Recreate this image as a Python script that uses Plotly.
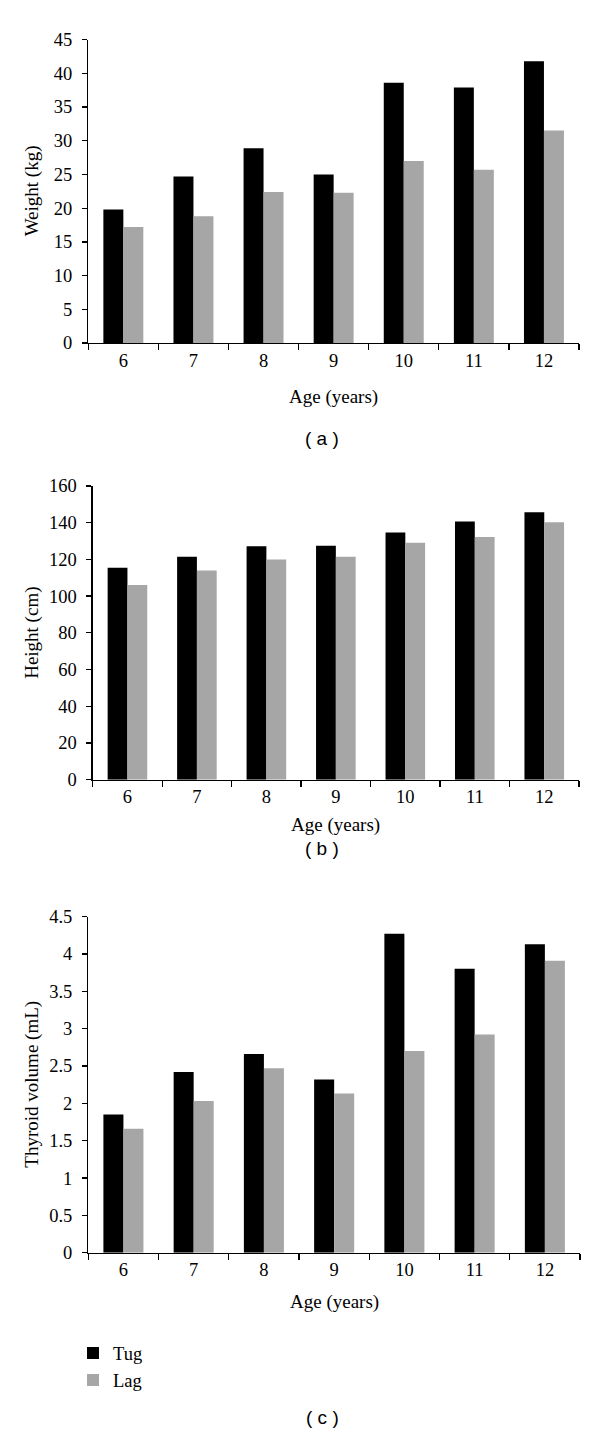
import plotly.graph_objects as go

ages = ["6", "7", "8", "9", "10", "11", "12"]
series_names = ["Tug", "Lag"]
weight_tug = [19.8, 24.7, 28.9, 25.0, 38.6, 37.9, 41.8]
weight_lag = [17.2, 18.8, 22.4, 22.3, 27.0, 25.7, 31.5]
height_tug = [115.4, 121.5, 127.2, 127.5, 134.7, 140.6, 145.7]
height_lag = [106.1, 114.0, 120.0, 121.5, 129.1, 132.2, 140.2]
thyroid_tug = [1.85, 2.42, 2.66, 2.32, 4.27, 3.80, 4.13]
thyroid_lag = [1.66, 2.03, 2.47, 2.13, 2.70, 2.92, 3.91]
y_titles = ["Weight (kg)", "Height (cm)", "Thyroid volume (mL)"]
x_title = "Age (years)"
panel_labels = ["( a )", "( b )", "( c )"]

W, H = 600, 1442
BLACK = "#000000"
GRAY = "#A6A6A6"
SERIF = "Liberation Serif"

def px_x(v):
    return v / W

def px_y(v):
    return 1 - v / H

# panel geometry in pixels: (left, right, top, bottom)
panels = [
    (88.3, 579.0, 30.0, 337.7),
    (92.7, 579.0, 482.7, 780.5),
    (88.3, 580.0, 919.3, 1260.2),
]
yranges = [(0, 45, 5), (0, 160, 20), (0, 4.5, 0.5)]
data_sets = [(weight_tug, weight_lag), (height_tug, height_lag), (thyroid_tug, thyroid_lag)]
xtitle_y = [392, 826, 1310]
label_y = [435, 850, 1427]

fig = go.Figure()
for i, ((tug, lag), (l, r, t, b), (y0, y1, dt)) in enumerate(zip(data_sets, panels, yranges)):
    sfx = "" if i == 0 else str(i + 1)
    fig.add_trace(go.Bar(x=ages, y=tug, name=series_names[0], marker=dict(color=BLACK, line=dict(width=0)),
                         xaxis="x" + sfx, yaxis="y" + sfx, showlegend=(i == 0), legendgroup="tug"))
    fig.add_trace(go.Bar(x=ages, y=lag, name=series_names[1], marker=dict(color=GRAY, line=dict(width=0)),
                         xaxis="x" + sfx, yaxis="y" + sfx, showlegend=(i == 0), legendgroup="lag"))
    fig.layout["xaxis" + sfx] = dict(
        domain=[px_x(l), px_x(r)], anchor="y" + sfx, type="category", range=[-0.5, 6.5],
        showline=True, linecolor=BLACK, linewidth=1.3, ticks="outside", tickson="boundaries",
        ticklen=6, tickwidth=1.3, tickcolor=BLACK, showgrid=False, zeroline=False,
        tickfont=dict(family=SERIF, size=18.5, color=BLACK), fixedrange=True,
    )
    fig.layout["yaxis" + sfx] = dict(
        domain=[px_y(b), px_y(t)], anchor="x" + sfx, range=[y0, y1], dtick=dt, tick0=0,
        showline=True, linecolor=BLACK, linewidth=1.3, ticks="outside", ticklen=5,
        tickwidth=1.3, tickcolor=BLACK, showgrid=False, zeroline=False,
        tickfont=dict(family=SERIF, size=18.5, color=BLACK), ticklabelstandoff=6, fixedrange=True,
    )
    fig.add_annotation(text=y_titles[i], xref="paper", yref="paper", x=px_x(32), y=px_y((t + b) / 2),
                       textangle=-90, showarrow=False, xanchor="center", yanchor="middle",
                       font=dict(family=SERIF, size=19, color=BLACK))
    fig.add_annotation(text=x_title, xref="paper", yref="paper", x=px_x((l + r) / 2), y=px_y(xtitle_y[i]),
                       showarrow=False, xanchor="center", yanchor="middle",
                       font=dict(family=SERIF, size=19, color=BLACK))
    fig.add_annotation(text=panel_labels[i], xref="paper", yref="paper", x=px_x(322), y=px_y(label_y[i]),
                       showarrow=False, xanchor="center", yanchor="middle",
                       font=dict(family="Liberation Sans", size=19, color=BLACK))

fig.update_layout(
    width=W, height=H, margin=dict(l=0, r=0, t=0, b=0),
    paper_bgcolor="white", plot_bgcolor="white",
    barmode="group", bargap=0.43, bargroupgap=0,
    legend=dict(x=px_x(73), y=px_y(1343), xanchor="left", yanchor="top",
                font=dict(family=SERIF, size=18.5, color=BLACK), tracegroupgap=0,
                bgcolor="rgba(0,0,0,0)", itemclick=False, itemdoubleclick=False),
    showlegend=True,
)

fig.write_html(
    "out.html",
    config={"displayModeBar": False, "staticPlot": True},
    post_script="document.body.style.margin='0';document.body.style.overflow='hidden';",
)
